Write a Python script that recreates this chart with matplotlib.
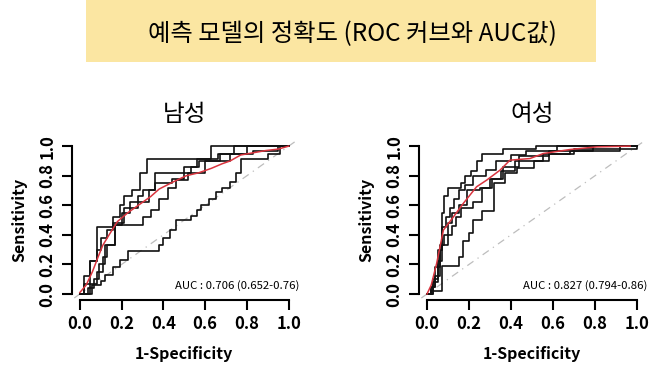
#!/usr/bin/env python3

import numpy as np
import matplotlib.pyplot as plt
from matplotlib.patches import Rectangle

plt.rcParams['font.family'] = ['Noto Sans CJK KR', 'DejaVu Sans']

# Data
title = '예측 모델의 정확도 (ROC 커브와 AUC값)'
panel_titles = ['남성', '여성']
auc_labels = ['AUC : 0.706 (0.652-0.76)', 'AUC : 0.827 (0.794-0.86)']
tick_values = [0.0, 0.2, 0.4, 0.6, 0.8, 1.0]
tick_labels = ['0.0', '0.2', '0.4', '0.6', '0.8', '1.0']

# male - five resampled ROC curves (step) + mean curve
male_fpr_1 = [0, 0.02, 0.05, 0.08, 0.16, 0.19, 0.21, 0.25, 0.29, 0.32, 0.63, 1.0]
male_tpr_1 = [0, 0.07, 0.22, 0.45, 0.52, 0.60, 0.66, 0.70, 0.82, 0.91, 1.0, 1.0]
male_fpr_2 = [0, 0.02, 0.05, 0.08, 0.10, 0.13, 0.16, 0.21, 0.28, 0.30, 0.36, 0.53, 0.57, 0.72, 0.80, 1.0]
male_tpr_2 = [0, 0.12, 0.22, 0.30, 0.38, 0.43, 0.48, 0.58, 0.66, 0.70, 0.82, 0.86, 0.90, 0.95, 1.0, 1.0]
male_fpr_3 = [0, 0.04, 0.07, 0.09, 0.12, 0.17, 0.20, 0.24, 0.33, 0.36, 0.44, 0.50, 0.56, 0.66, 0.74, 1.0]
male_tpr_3 = [0, 0.04, 0.10, 0.20, 0.33, 0.47, 0.55, 0.62, 0.70, 0.75, 0.78, 0.86, 0.91, 0.95, 1.0, 1.0]
male_fpr_4 = [0, 0.05, 0.08, 0.11, 0.13, 0.17, 0.30, 0.34, 0.38, 0.42, 0.46, 0.52, 0.60, 0.67, 0.83, 0.95, 1.0]
male_tpr_4 = [0, 0.07, 0.15, 0.25, 0.33, 0.47, 0.52, 0.57, 0.64, 0.72, 0.77, 0.82, 0.90, 0.95, 0.97, 1.0, 1.0]
male_fpr_5 = [0, 0.06, 0.10, 0.12, 0.16, 0.19, 0.23, 0.38, 0.40, 0.43, 0.46, 0.53, 0.56, 0.58, 0.62,
              0.65, 0.68, 0.72, 0.75, 0.77, 0.90, 0.96, 1.0]
male_tpr_5 = [0, 0.06, 0.09, 0.13, 0.18, 0.23, 0.29, 0.33, 0.38, 0.43, 0.50, 0.53, 0.57, 0.60, 0.645,
              0.69, 0.72, 0.76, 0.82, 0.91, 0.95, 1.0, 1.0]
male_mean_fpr = [0.0, 0.03, 0.06, 0.09, 0.11, 0.14, 0.18, 0.23, 0.29, 0.34, 0.38, 0.45, 0.51, 0.57,
                 0.63, 0.68, 0.72, 0.77, 0.83, 0.89, 0.95, 1.0]
male_mean_tpr = [0.01, 0.06, 0.15, 0.26, 0.33, 0.40, 0.49, 0.55, 0.61, 0.66, 0.71, 0.76, 0.80, 0.82,
                 0.85, 0.88, 0.90, 0.94, 0.955, 0.97, 0.98, 1.0]

# female
female_fpr_1 = [0, 0.02, 0.04, 0.06, 0.07, 0.08, 0.10, 0.16, 0.18, 0.21, 0.24, 0.26, 0.36, 0.52, 1.0]
female_tpr_1 = [0, 0.05, 0.12, 0.30, 0.55, 0.66, 0.72, 0.75, 0.80, 0.83, 0.90, 0.95, 0.98, 1.0, 1.0]
female_fpr_2 = [0, 0.03, 0.05, 0.07, 0.09, 0.11, 0.13, 0.15, 0.18, 0.22, 0.28, 0.33, 0.40, 0.47, 0.62, 1.0]
female_tpr_2 = [0, 0.10, 0.30, 0.45, 0.52, 0.58, 0.64, 0.70, 0.74, 0.80, 0.84, 0.90, 0.94, 0.97, 1.0, 1.0]
female_fpr_3 = [0, 0.02, 0.04, 0.06, 0.08, 0.10, 0.12, 0.15, 0.19, 0.25, 0.30, 0.36, 0.44, 0.58, 0.79, 1.0]
female_tpr_3 = [0, 0.05, 0.18, 0.33, 0.40, 0.48, 0.55, 0.60, 0.70, 0.72, 0.78, 0.86, 0.93, 0.97, 1.0, 1.0]
female_fpr_4 = [0, 0.03, 0.05, 0.07, 0.10, 0.12, 0.14, 0.16, 0.22, 0.26, 0.31, 0.35, 0.42, 0.55, 0.70, 1.0]
female_tpr_4 = [0, 0.08, 0.22, 0.33, 0.40, 0.46, 0.52, 0.58, 0.62, 0.72, 0.78, 0.83, 0.90, 0.95, 0.98, 1.0]
female_fpr_5 = [0, 0.02, 0.07, 0.15, 0.17, 0.20, 0.22, 0.26, 0.32, 0.37, 0.43, 0.51, 0.58, 0.68, 0.92, 1.0]
female_tpr_5 = [0, 0.02, 0.19, 0.25, 0.36, 0.41, 0.50, 0.56, 0.75, 0.815, 0.85, 0.90, 0.95, 0.97, 1.0, 1.0]
female_mean_fpr = [0.0, 0.02, 0.046, 0.078, 0.125, 0.173, 0.236, 0.284, 0.348, 0.395, 0.49, 0.554,
                   0.68, 0.808, 0.967]
female_mean_tpr = [0.0, 0.06, 0.207, 0.432, 0.52, 0.613, 0.725, 0.77, 0.838, 0.905, 0.916, 0.95,
                   0.977, 0.995, 1.0]

male_curves = [(male_fpr_1, male_tpr_1), (male_fpr_2, male_tpr_2), (male_fpr_3, male_tpr_3),
               (male_fpr_4, male_tpr_4), (male_fpr_5, male_tpr_5)]
female_curves = [(female_fpr_1, female_tpr_1), (female_fpr_2, female_tpr_2), (female_fpr_3, female_tpr_3),
                 (female_fpr_4, female_tpr_4), (female_fpr_5, female_tpr_5)]


def draw_roc(ax, curves, mean_fpr, mean_tpr, panel_title, auc_text):
    ax.plot([-0.1, 1.1], [-0.1, 1.1], color='#bdbdbd', lw=0.9, ls=(0, (6, 4, 1, 4)))
    for fpr, tpr in curves:
        ax.plot(fpr, tpr, drawstyle='steps-post', color='#111111', lw=1.2)
    ax.plot(mean_fpr, mean_tpr, color='#d9343e', lw=1.1)

    ax.set_xlim(-0.04, 1.04)
    ax.set_ylim(-0.04, 1.04)
    for side in ['top', 'right']:
        ax.spines[side].set_visible(False)
    for side in ['left', 'bottom']:
        ax.spines[side].set_bounds(0, 1)
        ax.spines[side].set_linewidth(1.5)
    ax.set_xticks(tick_values)
    ax.set_yticks(tick_values)
    ax.set_xticklabels(tick_labels, fontsize=12, fontweight='bold')
    ax.set_yticklabels(tick_labels, fontsize=12, fontweight='bold', rotation=90, va='center')
    ax.tick_params(direction='out', length=7, width=1.5, pad=4)

    ax.set_xlabel('1-Specificity', fontsize=11.5, fontweight='bold', labelpad=9)
    ax.set_ylabel('Sensitivity', fontsize=11.5, fontweight='bold', labelpad=8)
    ax.set_title(panel_title, fontsize=17, fontweight='medium', pad=14)
    ax.text(1.05, 0.06, auc_text, ha='right', va='center', fontsize=8.2)


fig = plt.figure(figsize=(6.5, 3.68), dpi=100)

# title banner
fig.add_artist(Rectangle((86 / 650, 1 - 62 / 368), 510 / 650, 62 / 368,
                         transform=fig.transFigure, facecolor='#fbe6a2', edgecolor='none'))
fig.text(352 / 650, 1 - 34 / 368, title, ha='center', va='center', fontsize=17.5,
         fontweight='medium')

ax1 = fig.add_axes([0.110, 0.185, 0.347, 0.434])
ax2 = fig.add_axes([0.644, 0.185, 0.349, 0.434])

draw_roc(ax1, male_curves, male_mean_fpr, male_mean_tpr, panel_titles[0], auc_labels[0])
draw_roc(ax2, female_curves, female_mean_fpr, female_mean_tpr, panel_titles[1], auc_labels[1])

plt.savefig('out.png', dpi=100)
